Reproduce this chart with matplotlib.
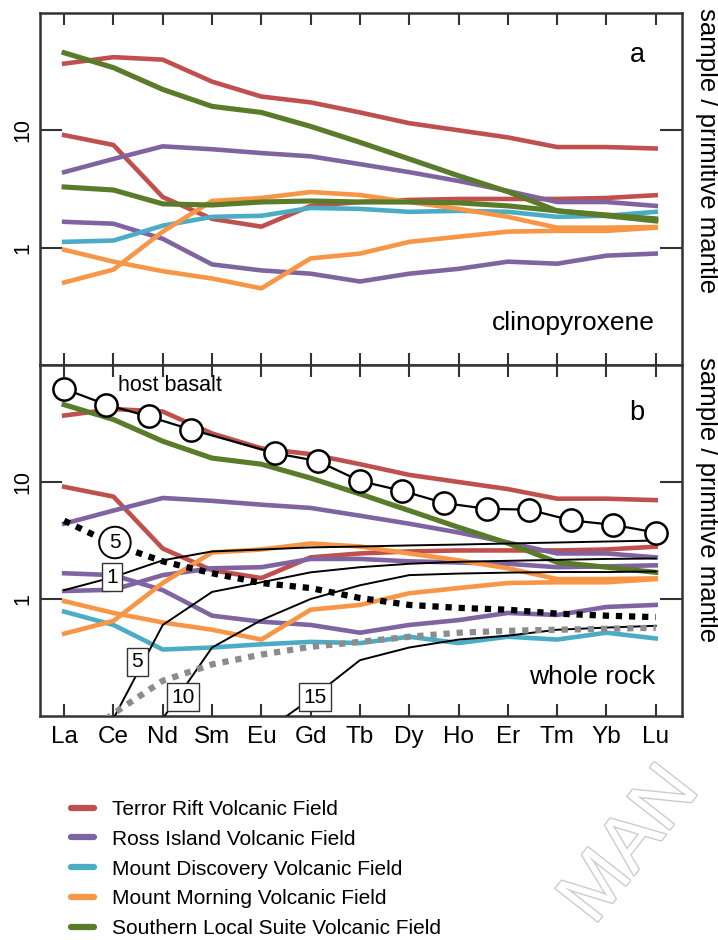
import numpy as np
import matplotlib.pyplot as plt
import matplotlib.patheffects as pe
from matplotlib.lines import Line2D
from matplotlib.ticker import NullLocator

plt.rcParams['font.family'] = ['Liberation Sans', 'DejaVu Sans']

elements = ['La', 'Ce', 'Nd', 'Sm', 'Eu', 'Gd', 'Tb', 'Dy', 'Ho', 'Er', 'Tm', 'Yb', 'Lu']

# clinopyroxene, normalised to primitive mantle (panel a)
terror_hi = [37, 42, 40, 26, 19.4, 17.3, 14.2, 11.5, 10.0, 8.7, 7.2, 7.2, 7.0]
terror_lo = [9.1, 7.5, 2.7, 1.76, 1.51, 2.27, 2.45, 2.55, 2.6, 2.6, 2.6, 2.65, 2.8]
ross_hi = [4.4, 5.7, 7.3, 6.9, 6.4, 6.0, 5.15, 4.4, 3.7, 3.04, 2.45, 2.45, 2.27]
ross_lo = [1.66, 1.6, 1.19, 0.72, 0.64, 0.60, 0.515, 0.60, 0.66, 0.76, 0.73, 0.855, 0.89]
discovery = [1.12, 1.15, 1.54, 1.83, 1.87, 2.18, 2.14, 2.02, 2.06, 2.02, 1.83, 1.87, 2.02]
morning_hi = [0.505, 0.65, 1.37, 2.5, 2.65, 2.98, 2.81, 2.45, 2.14, 1.83, 1.48, 1.48, 1.5]
morning_lo = [0.96, 0.76, 0.63, 0.546, 0.45, 0.81, 0.89, 1.12, 1.24, 1.37, 1.39, 1.39, 1.48]
sls_hi = [45.8, 34.2, 22.3, 16, 14.2, 10.8, 7.9, 5.7, 4.1, 3.0, 2.06, 1.87, 1.69]
sls_lo = [3.29, 3.1, 2.36, 2.31, 2.45, 2.5, 2.45, 2.45, 2.41, 2.27, 2.06, 1.9, 1.76]

# whole rock lines that differ from panel a
ross_wr = [1.17, 1.2, 1.6, 1.83, 1.87, 2.2, 2.2, 2.1, 2.05, 2.0, 1.87, 1.9, 1.94]
discovery_wr = [0.78, 0.6, 0.37, 0.385, 0.41, 0.43, 0.42, 0.476, 0.42, 0.476, 0.45, 0.515, 0.46]

# host basalt is on the full REE list (La Ce Pr Nd Pm Sm ... Lu), Pm missing
host_slots = 15
host_missing = 4
host_basalt = [62.6, 45.8, 36.3, 28.1, 17.6, 15.1, 10.2, 8.4, 6.6, 5.9, 5.8, 4.7, 4.3, 3.7]

# model curves
nan = np.nan
melt_1 = [1.19, 1.54, 2.14, 2.55, 2.65, 2.76, 2.81, 2.87, 2.92, 2.98, 3.04, 3.1, 3.16]
melt_5 = [nan, 0.095, 0.6, 1.15, 1.39, 1.69, 1.87, 2.0, 2.08, 2.12, 2.16, 2.2, 2.22]
melt_10 = [nan, nan, 0.095, 0.385, 0.66, 1.0, 1.31, 1.6, 1.65, 1.68, 1.7, 1.7, 1.72]
melt_15 = [nan, nan, nan, nan, 0.07, 0.14, 0.30, 0.385, 0.45, 0.486, 0.546, 0.57, 0.59]
dotted_black = [4.67, 2.93, 2.1, 1.66, 1.37, 1.24, 1.02, 0.89, 0.84, 0.81, 0.75, 0.72, 0.70]
dotted_gray = [0.05, 0.105, 0.20, 0.276, 0.335, 0.39, 0.43, 0.476, 0.515, 0.535, 0.546, 0.556, 0.568]

fields = ['Terror Rift Volcanic Field', 'Ross Island Volcanic Field',
          'Mount Discovery Volcanic Field', 'Mount Morning Volcanic Field',
          'Southern Local Suite Volcanic Field']
red, purple, cyan, orange, green = '#c0504d', '#8064a2', '#4bacc6', '#f79646', '#5a7b2a'
colors = [red, purple, cyan, orange, green]

x = np.arange(len(elements))
host_x = np.delete(np.linspace(0, len(elements) - 1, host_slots), host_missing)

fig = plt.figure(figsize=(7.18, 9.40), dpi=100)
ax_a = fig.add_axes([0.0557, 0.6117, 0.894, 0.3745])
ax_b = fig.add_axes([0.0557, 0.2383, 0.894, 0.3734])


def style(ax):
    ax.set_yscale('log')
    ax.set_ylim(0.1, 100)
    ax.set_xlim(-0.49, 12.53)
    ax.set_xticks(x)
    ax.set_xticklabels(elements, fontsize=17.5)
    ax.set_yticks([1, 10])
    ax.set_yticklabels(['1', '10'], rotation=90, va='center', fontsize=15.5)
    ax.yaxis.set_minor_locator(NullLocator())
    ax.tick_params(axis='x', direction='in', length=8.5, width=1.5,
                   top=True, bottom=True, pad=7, color='#333333')
    ax.tick_params(axis='y', direction='in', length=16, width=1.5,
                   left=True, right=True, pad=5, color='#333333')
    for s in ax.spines.values():
        s.set_linewidth(1.8)
        s.set_color('#333333')


lw = 3.3
# panel a - clinopyroxene
for vals, c in [(terror_hi, red), (terror_lo, red), (ross_hi, purple), (ross_lo, purple),
                (discovery, cyan), (morning_hi, orange), (morning_lo, orange)]:
    ax_a.plot(x, vals, color=c, lw=lw)
ax_a.plot(x, sls_lo, color=green, lw=lw + 0.4)
ax_a.plot(x, sls_hi, color=green, lw=lw + 0.4)
style(ax_a)
ax_a.tick_params(labelbottom=False)
ax_a.text(0.93, 0.88, 'a', transform=ax_a.transAxes, fontsize=19.5, ha='center', va='center')
ax_a.text(0.958, 0.119, 'clinopyroxene', transform=ax_a.transAxes, fontsize=19,
          ha='right', va='center')

# panel b - whole rock
for vals, c in [(terror_hi, red), (terror_lo, red), (ross_hi, purple), (ross_lo, purple),
                (ross_wr, purple), (discovery_wr, cyan), (morning_hi, orange), (morning_lo, orange)]:
    ax_b.plot(x, vals, color=c, lw=lw)
ax_b.plot(x, sls_hi, color=green, lw=lw + 0.4)

for vals in [melt_1, melt_5, melt_10, melt_15]:
    ax_b.plot(x, vals, color='black', lw=1.4, zorder=4)
ax_b.plot(x, dotted_black, color='black', lw=4.5, ls=(0, (1, 1.1)),
          dash_capstyle='butt', zorder=4)
ax_b.plot(x, dotted_gray, color='#8c8c8c', lw=4.5, ls=(0, (1, 1.1)),
          dash_capstyle='butt', zorder=4)

ax_b.plot(host_x, host_basalt, color='black', lw=1.6, marker='o', ms=16,
          mfc='white', mec='black', mew=1.8, zorder=6)
ax_b.text(1.09, 67, 'host basalt', fontsize=15.5, ha='left', va='center')

box = dict(boxstyle='square,pad=0.22', fc='white', ec='#333333', lw=1.0)
for lx, ly, lab in [(0.97, 1.54, '1'), (1.48, 0.29, '5'), (2.41, 0.145, '10'), (5.09, 0.145, '15')]:
    ax_b.text(lx, ly, lab, fontsize=15, ha='center', va='center', bbox=box, zorder=7)
ax_b.text(1.03, 3.04, '5', fontsize=15, ha='center', va='center', zorder=7,
          bbox=dict(boxstyle='circle,pad=0.3', fc='white', ec='black', lw=1.4))

style(ax_b)
ax_b.text(0.93, 0.863, 'b', transform=ax_b.transAxes, fontsize=19.5, ha='center', va='center')
ax_b.text(0.958, 0.111, 'whole rock', transform=ax_b.transAxes, fontsize=19,
          ha='right', va='center')

# right hand labels
for ytop in [0.991, 0.620]:
    fig.text(0.985, ytop, 'sample / primitive mantle', rotation=-90, fontsize=18.5,
             ha='center', va='top')

handles = [Line2D([], [], color=c, lw=4.5, solid_capstyle='round') for c in colors]
fig.legend(handles, fields, loc='upper left', bbox_to_anchor=(0.099, 0.149),
           frameon=False, fontsize=15, handlelength=1.1, handletextpad=0.85,
           labelspacing=0.52, borderpad=0, borderaxespad=0)

# faint watermark from the source page
fig.text(0.993, 0.004, 'MAN', rotation=52, fontsize=56, color='white',
         ha='right', va='bottom',
         path_effects=[pe.withStroke(linewidth=2, foreground='#cccccc')])

fig.savefig('out.png', dpi=100)
